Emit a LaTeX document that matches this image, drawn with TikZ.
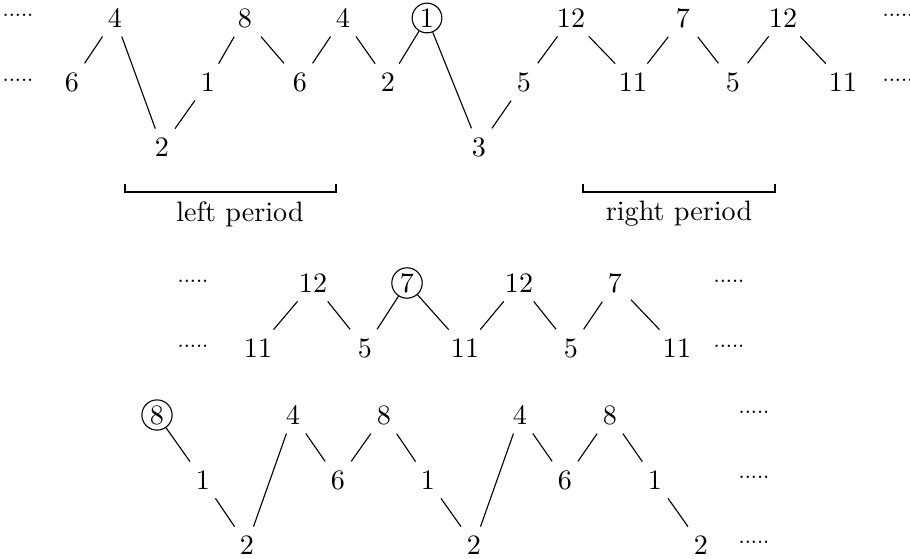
\documentclass[tikz,border=0pt]{standalone}
\usepackage{tikz}
\usetikzlibrary{positioning,calc}
\tikzset{
  num/.style={inner sep=3pt},
  ring/.style={draw, circle, inner sep=0.8pt},
  dots/.style={font=\tiny\bfseries, inner sep=0pt},
  period/.style={semithick},
}

\begin{document}
\begin{tikzpicture}[x=0.125mm, y=-0.125mm]
    \useasboundingbox (0,0) rectangle (910,558);
    % upper chain
    \node[num] (ta1) at (115,18) {4};
    \node[num] (ta2) at (245,18) {8};
    \node[num] (ta3) at (343,18) {4};
    \node[ring] (ta4) at (427,18) {1};
    \node[num] (ta5) at (571,18) {12};
    \node[num] (ta6) at (683,18) {7};
    \node[num] (ta7) at (783,18) {12};
    \node[num] (tb1) at (72,82) {6};
    \node[num] (tb2) at (208,82) {1};
    \node[num] (tb3) at (300,82) {6};
    \node[num] (tb4) at (388,82) {2};
    \node[num] (tb5) at (524,82) {5};
    \node[num] (tb6) at (633,82) {11};
    \node[num] (tb7) at (733,82) {5};
    \node[num] (tb8) at (843,82) {11};
    \node[num] (tc1) at (162,147) {2};
    \node[num] (tc2) at (479,147) {3};
    \draw (tb1) -- (ta1) -- (tc1) -- (tb2) -- (ta2) -- (tb3) -- (ta3) -- (tb4) -- (ta4)
          -- (tc2) -- (tb5) -- (ta5) -- (tb6) -- (ta6) -- (tb7) -- (ta7) -- (tb8);
    \node[dots] (td1) at (18,15) {.....};
    \node[dots] (td2) at (18,80) {.....};
    \node[dots] (td3) at (898,15) {.....};
    \node[dots] (td4) at (898,80) {.....};
    % periods
    \coordinate (lp1) at (125,192);
    \coordinate (lp2) at (336,192);
    \coordinate (rp1) at (583,192);
    \coordinate (rp2) at (775,192);
    \draw[period] ($(lp1)+(0,-8)$) -- (lp1) -- (lp2) -- ($(lp2)+(0,-8)$);
    \draw[period] ($(rp1)+(0,-8)$) -- (rp1) -- (rp2) -- ($(rp2)+(0,-8)$);
    \node (lpl) at (240,214) {left period};
    \node (rpl) at (679,214) {right period};
    % middle chain
    \node[num] (ma1) at (313,283) {12};
    \node[ring] (ma2) at (407,283) {7};
    \node[num] (ma3) at (519,283) {12};
    \node[num] (ma4) at (615,283) {7};
    \node[num] (mb1) at (258,348) {11};
    \node[num] (mb2) at (365,348) {5};
    \node[num] (mb3) at (465,348) {11};
    \node[num] (mb4) at (571,348) {5};
    \node[num] (mb5) at (677,348) {11};
    \draw (mb1) -- (ma1) -- (mb2) -- (ma2) -- (mb3) -- (ma3) -- (mb4) -- (ma4) -- (mb5);
    \node[dots] (md1) at (193,281) {.....};
    \node[dots] (md2) at (193,346) {.....};
    \node[dots] (md3) at (729,281) {.....};
    \node[dots] (md4) at (729,346) {.....};
    % lower chain
    \node[ring] (ba1) at (157,415) {8};
    \node[num] (ba2) at (293,415) {4};
    \node[num] (ba3) at (384,415) {8};
    \node[num] (ba4) at (520,415) {4};
    \node[num] (ba5) at (610,415) {8};
    \node[num] (bb1) at (203,480) {1};
    \node[num] (bb2) at (338,480) {6};
    \node[num] (bb3) at (428,480) {1};
    \node[num] (bb4) at (565,480) {6};
    \node[num] (bb5) at (655,480) {1};
    \node[num] (bc1) at (247,545) {2};
    \node[num] (bc2) at (474,545) {2};
    \node[num] (bc3) at (701,545) {2};
    \draw (ba1) -- (bb1) -- (bc1) -- (ba2) -- (bb2) -- (ba3) -- (bb3) -- (bc2) -- (ba4)
          -- (bb4) -- (ba5) -- (bb5) -- (bc3);
    \node[dots] (bd1) at (754,412) {.....};
    \node[dots] (bd2) at (754,477) {.....};
    \node[dots] (bd3) at (754,542) {.....};
\end{tikzpicture}
\end{document}
